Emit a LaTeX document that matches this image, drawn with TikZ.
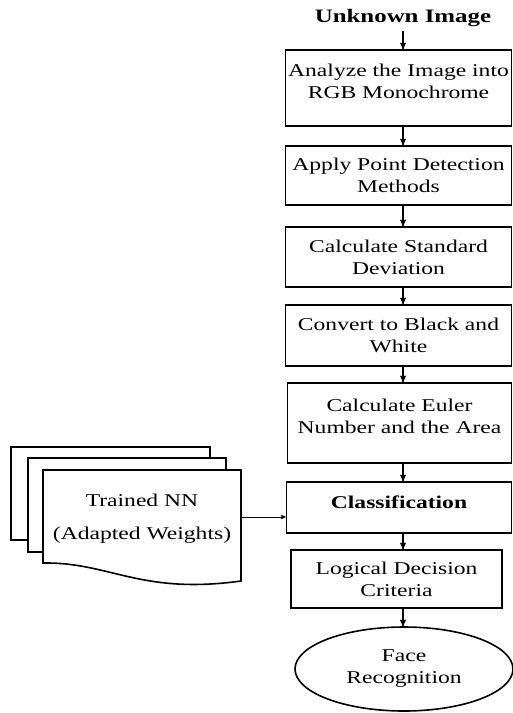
\documentclass[tikz,border=0pt]{standalone}
\usepackage{fontspec}
\setmainfont[FakeStretch=1.31]{Liberation Serif}
\usetikzlibrary{arrows,shapes.geometric}

\begin{document}
\begin{tikzpicture}[->,>=stealth',x=1pt,y=-1pt,line width=1.3pt]
    \tikzstyle{txt}=[font=\fontsize{18}{22}\selectfont]
    \tikzstyle{box}=[style=txt, draw, rectangle, minimum width=226pt, align=center, line width=1.6pt, inner sep=2pt]
    \tikzstyle{sheet}=[-, draw, fill=white, line width=1.6pt]

    \useasboundingbox (0,0) rectangle (513,713);

    \node (title) at (403,18) {\fontsize{19}{22}\selectfont\bfseries Unknown Image};
    \node[box, minimum height=76pt, text depth=14pt] (b1) at (398.5,88)  {Analyze the Image into\\RGB Monochrome};
    \node[box, minimum height=59pt] (b2) at (398.5,175.5) {Apply Point Detection\\Methods};
    \node[box, minimum height=60pt] (b3) at (398.5,257)   {Calculate Standard\\Deviation};
    \node[box, minimum height=61pt] (b4) at (398.5,335.5) {Convert to Black and\\White};
    \node[box, minimum height=80pt, minimum width=224pt, text depth=13pt] (b5) at (399.5,423) {Calculate Euler\\Number and the Area};
    \node[box, minimum height=51pt, minimum width=225pt, text depth=10pt,
          font=\fontsize{18}{22}\selectfont\bfseries] (b6) at (399,507.5) {Classification};
    \node[box, minimum height=58pt, minimum width=211pt] (b7) at (396.5,579) {Logical Decision\\Criteria};
    \node[box, ellipse, minimum width=218pt, minimum height=84pt] (face) at (404,669) {Face\\Recognition};

    % stacked documents
    \draw[sheet] (11,447) rectangle (210,540);
    \draw[sheet] (28,458) rectangle (226,552);
    \draw[sheet] (43,470) -- (241,470) -- (241,581) .. controls (140,595) and (110,562) .. (43,563) -- cycle;
    \node[txt, align=center] (nn) at (142,518.5) {Trained NN\\[11pt](Adapted Weights)};
    \coordinate (nnr) at (241,517);

    \path
     (title) edge (title |- b1.north)
     (b1.south -| title) edge (title |- b2.north)
     (b2.south -| title) edge (title |- b3.north)
     (b3.south -| title) edge (title |- b4.north)
     (b4.south -| title) edge (title |- b5.north)
     (b5.south -| title) edge (title |- b6.north)
     (b6.south -| title) edge (title |- b7.north)
     (b7.south -| title) edge (title |- face.north)
     (nnr) edge[line width=0.8pt] (b6.west |- nnr)
     ;
\end{tikzpicture}
\end{document}
